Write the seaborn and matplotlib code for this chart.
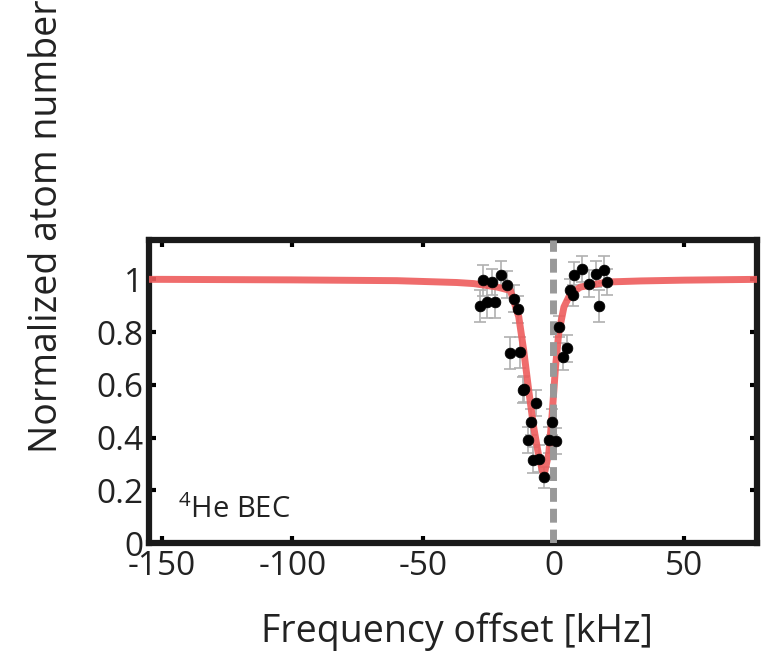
import numpy as np
import pandas as pd
import matplotlib
matplotlib.use("Agg")
import matplotlib.pyplot as plt
import seaborn as sns

# measured points (kHz, normalized atom number, error)
freq = [-27.0, -23.6, -20.0, -17.8, -28.3, -25.5, -22.3, -15.3, -13.7, -16.8,
        -12.7, -11.3, -11.7, -6.7, -8.8, -9.7, -7.8, -5.6, -3.5, -0.5,
        -1.8, 0.8, 2.3, 5.0, 3.7, 6.5, 7.6, 7.8, 11.0, 13.6,
        16.2, 19.3, 20.4, 17.4]
atoms = [0.996, 0.99, 1.018, 0.98, 0.90, 0.915, 0.915, 0.927, 0.886, 0.72,
         0.723, 0.585, 0.58, 0.53, 0.46, 0.39, 0.314, 0.32, 0.25, 0.458,
         0.39, 0.386, 0.82, 0.738, 0.707, 0.96, 0.94, 1.015, 1.04, 0.984,
         1.02, 1.037, 0.99, 0.90]
err = [0.06, 0.05, 0.05, 0.05, 0.06, 0.06, 0.06, 0.05, 0.05, 0.06,
       0.06, 0.05, 0.05, 0.05, 0.05, 0.05, 0.05, 0.05, 0.04, 0.05,
       0.05, 0.05, 0.04, 0.05, 0.05, 0.04, 0.04, 0.05, 0.05, 0.05,
       0.05, 0.05, 0.05, 0.06]

# fitted curve
fit_x = [-155, -150, -100, -60, -43.5, -37, -30.6, -21.7, -16.5, -13.3, -11.4,
         -9.5, -7.6, -5.65, -3.7, -1.8, -0.5, 0.8, 2.0, 4.0, 6.5, 10.4,
         20.6, 33.5, 50, 78]
fit_y = [1.0, 1.0, 0.998, 0.995, 0.99, 0.988, 0.984, 0.971, 0.958, 0.858, 0.73,
         0.58, 0.44, 0.33, 0.254, 0.34, 0.49, 0.67, 0.795, 0.895, 0.946, 0.971,
         0.99, 0.994, 0.997, 1.0]

xticks = [-150, -100, -50, 0, 50]
yticks = [0, 0.2, 0.4, 0.6, 0.8, 1]
ytick_labels = ["0", "0.2", "0.4", "0.6", "0.8", "1"]

sns.set_style("white")
plt.rcParams["font.family"] = ["Open Sans", "DejaVu Sans"]
plt.rcParams["mathtext.default"] = "regular"

fig = plt.figure(figsize=(7.71, 6.57), dpi=100)
ax = fig.add_axes([0.193, 0.1735, 0.789, 0.4615])

fit_df = pd.DataFrame({"x": fit_x, "y": fit_y})
pts_df = pd.DataFrame({"x": freq, "y": atoms, "e": err})

ax.errorbar(pts_df["x"], pts_df["y"], yerr=pts_df["e"], fmt="none",
            ecolor="#b0b0b0", elinewidth=1.2, capsize=4, capthick=1.2, zorder=2)
sns.lineplot(data=fit_df, x="x", y="y", ax=ax, color="#ee5c5c", linewidth=5,
             alpha=0.9, zorder=3)
ax.axvline(0, color="#999999", linewidth=5, linestyle=(0, (2, 1)), zorder=4)
sns.scatterplot(data=pts_df, x="x", y="y", ax=ax, color="black", s=60,
                edgecolor="black", linewidth=0.5, zorder=5)

ax.set_xlim(-155, 78)
ax.set_ylim(0, 1.15)
ax.set_xticks(xticks)
ax.set_xticklabels([str(v) for v in xticks])
ax.set_yticks(yticks)
ax.set_yticklabels(ytick_labels)
ax.tick_params(direction="in", length=5, width=3, labelsize=24, top=True,
               right=True, bottom=True, left=True, pad=4, colors="black")
for lab in ax.get_xticklabels() + ax.get_yticklabels():
    lab.set_color("#222222")
ax.tick_params(axis="x", pad=5)
ax.tick_params(axis="y", pad=4)
for s in ax.spines.values():
    s.set_linewidth(4.5)
    s.set_color("#1a1a1a")
    s.set_visible(True)

ax.set_xlabel("")
ax.set_ylabel("")
fig.text(0.593, 0.023, "Frequency offset [kHz]", fontsize=27, ha="center",
         va="baseline", color="#222222")
fig.text(0.061, 0.655, "Normalized atom number", fontsize=27, rotation=90,
         ha="center", va="center", color="#222222")
ax.text(0.048, 0.083, "$^{4}$He BEC", transform=ax.transAxes, fontsize=21,
        ha="left", va="baseline", color="#222222")

fig.savefig("out.png", dpi=100)
